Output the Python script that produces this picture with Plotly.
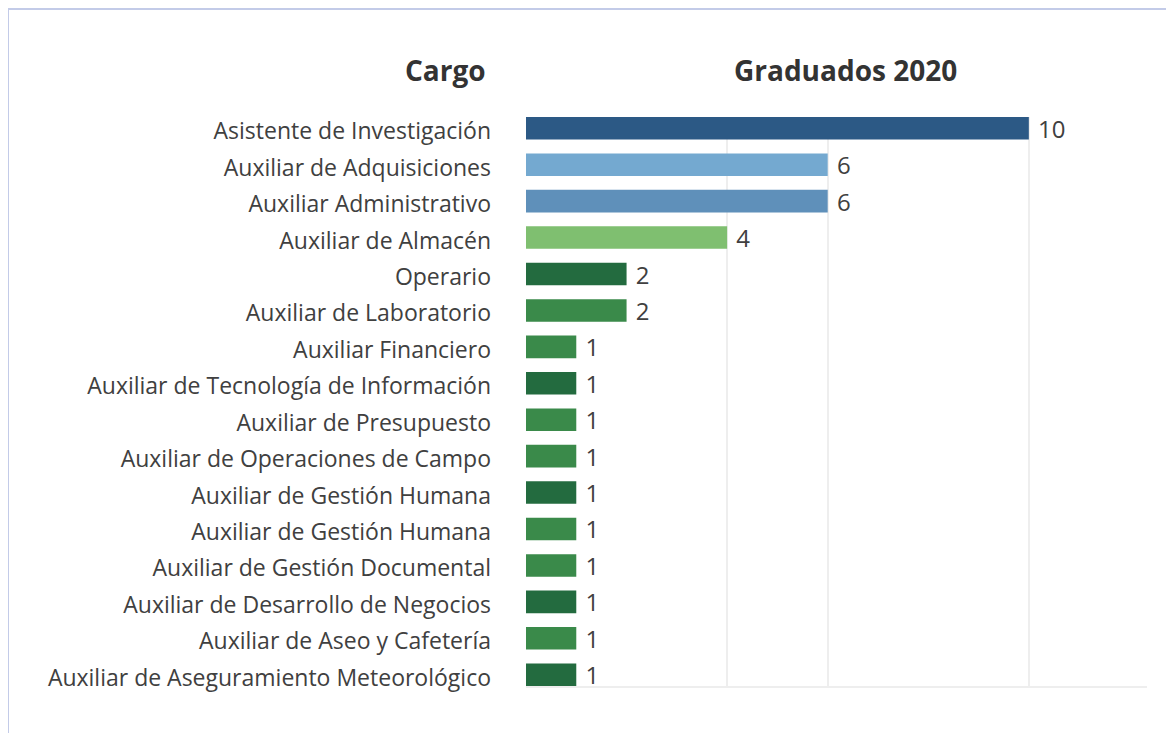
import plotly.graph_objects as go

cargos = [
    "Asistente de Investigación",
    "Auxiliar de Adquisiciones",
    "Auxiliar Administrativo",
    "Auxiliar de Almacén",
    "Operario",
    "Auxiliar de Laboratorio",
    "Auxiliar Financiero",
    "Auxiliar de Tecnología de Información",
    "Auxiliar de Presupuesto",
    "Auxiliar de Operaciones de Campo",
    "Auxiliar de Gestión Humana",
    "Auxiliar de Gestión Humana",
    "Auxiliar de Gestión Documental",
    "Auxiliar de Desarrollo de Negocios",
    "Auxiliar de Aseo y Cafetería",
    "Auxiliar de Aseguramiento Meteorológico",
]
graduados_2020 = [10, 6, 6, 4, 2, 2, 1, 1, 1, 1, 1, 1, 1, 1, 1, 1]

DARK_BLUE = "#2c5985"
LIGHT_BLUE = "#74a9d0"
MID_BLUE = "#5f90ba"
LIGHT_GREEN = "#7fbf70"
DARK_GREEN = "#236b3f"
MID_GREEN = "#3a8a4a"
bar_colors = [DARK_BLUE, LIGHT_BLUE, MID_BLUE, LIGHT_GREEN, DARK_GREEN, MID_GREEN,
              MID_GREEN, DARK_GREEN, MID_GREEN, MID_GREEN, DARK_GREEN, MID_GREEN,
              MID_GREEN, DARK_GREEN, MID_GREEN, DARK_GREEN]

# page has an 8px body margin; figure origin sits at (8, 8)
OFF = 8
W, H = 1166, 725
ML = 526 - OFF
MT = 117 - OFF
MR = W - (1147 - OFF)
MB = H - (686 - OFF)
XMAX = 12.35
TEXT = "#404040"
FONT = "Open Sans"

pos = list(range(len(cargos)))

fig = go.Figure(go.Bar(
    x=graduados_2020,
    y=pos,
    orientation="h",
    marker=dict(color=bar_colors, line=dict(width=0)),
    width=0.62,
    text=[str(v) for v in graduados_2020],
    texttemplate=" %{text}",
    textposition="outside",
    constraintext="none",
    textfont=dict(family=FONT, size=24, color=TEXT),
    outsidetextfont=dict(family=FONT, size=24, color=TEXT),
    cliponaxis=False,
    hoverinfo="skip",
))

pw = W - ML - MR
ph = H - MT - MB
def px_x(px):
    return (px - OFF - ML) / pw
def px_y(py):
    return (H - MB - (py - OFF)) / ph

fig.update_layout(
    width=W, height=H,
    margin=dict(l=ML, r=MR, t=MT, b=MB, autoexpand=False),
    paper_bgcolor="white", plot_bgcolor="white",
    showlegend=False,
    font=dict(family=FONT, color=TEXT),
    xaxis=dict(range=[0, XMAX], tickvals=[4, 6, 10, XMAX], showticklabels=False,
               showgrid=True, gridcolor="#eeeeee", gridwidth=1.5, zeroline=False,
               showline=True, linecolor="#eeeeee", linewidth=2, fixedrange=True),
    yaxis=dict(range=[len(cargos) - 1 + 0.31, -0.31], tickvals=pos, ticktext=cargos,
               tickfont=dict(family=FONT, size=23, color=TEXT), ticks="",
               ticklabelstandoff=34, ticklabelshift=-3, showgrid=False, zeroline=False,
               showline=False, automargin=False, fixedrange=True),
    annotations=[
        dict(text="<b>Cargo</b>", x=px_x(445), y=px_y(70), xref="paper", yref="paper",
             showarrow=False, font=dict(family=FONT, size=28, color="#333333"),
             xanchor="center", yanchor="middle"),
        dict(text="<b>Graduados 2020</b>", x=px_x(845), y=px_y(70), xref="paper", yref="paper",
             showarrow=False, font=dict(family=FONT, size=28, color="#333333"),
             xanchor="center", yanchor="middle"),
    ],
    shapes=[
        dict(type="line", xref="paper", yref="paper", x0=px_x(7), x1=px_x(W + OFF + 5),
             y0=px_y(9), y1=px_y(9), line=dict(color="#c3cbe8", width=2)),
        dict(type="line", xref="paper", yref="paper", x0=px_x(8), x1=px_x(8),
             y0=px_y(9), y1=px_y(H + OFF + 5), line=dict(color="#c3cbe8", width=2)),
    ],
)

fig.write_html("out.html", config={"displayModeBar": False})
